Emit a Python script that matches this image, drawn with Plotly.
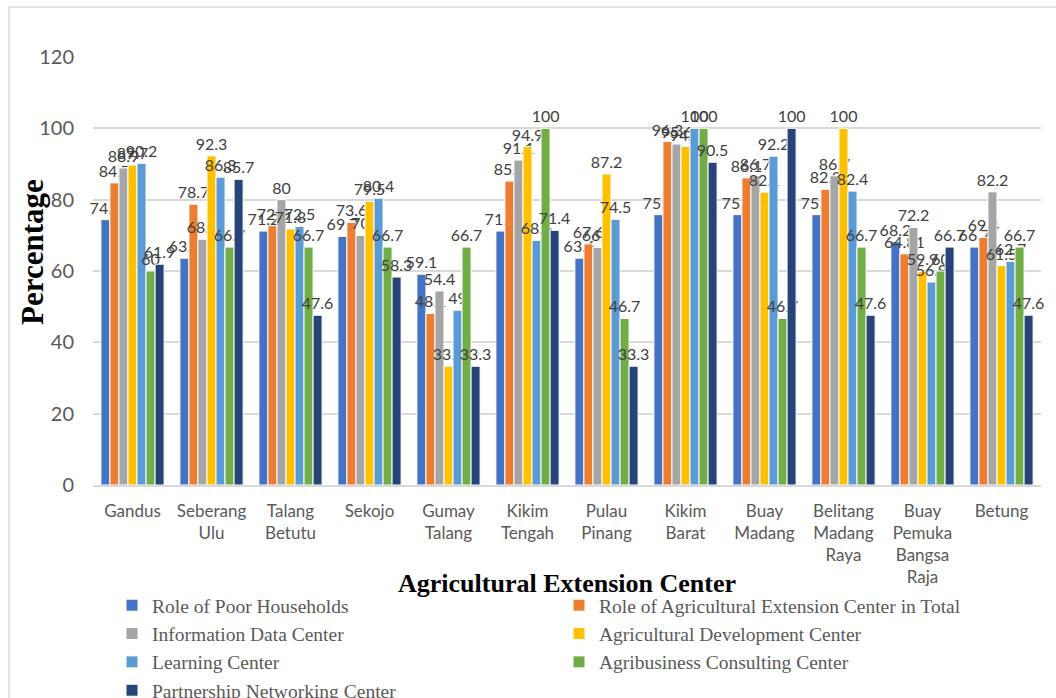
import plotly.graph_objects as go

categories = ["Gandus", "Seberang<br>Ulu", "Talang<br>Betutu", "Sekojo", "Gumay<br>Talang",
              "Kikim<br>Tengah", "Pulau<br>Pinang", "Kikim<br>Barat", "Buay<br>Madang",
              "Belitang<br>Madang<br>Raya", "Buay<br>Pemuka<br>Bangsa<br>Raja", "Betung"]

poor_households = [74.4, 63.6, 71.2, 69.7, 59.1, 71.2, 63.6, 75.8, 75.8, 75.8, 68.2, 66.7]
ext_center_total = [84.7, 78.7, 72.7, 73.6, 48.1, 85.2, 67.6, 96.3, 86.1, 82.9, 64.81, 69.4]
information_data = [88.9, 68.9, 80, 70, 54.4, 91.1, 66.6, 95.6, 86.7, 86.7, 72.2, 82.2]
agri_development = [89.7, 92.3, 71.8, 79.5, 33.3, 94.9, 87.2, 94.9, 82.1, 100, 59.9, 61.5]
learning_center = [90.2, 86.3, 72.5, 80.4, 49, 68.6, 74.5, 100, 92.2, 82.4, 56.9, 62.7]
agribusiness = [60, 66.7, 66.7, 66.7, 66.7, 100, 46.7, 100, 46.7, 66.7, 60, 66.7]
partnership = [61.9, 85.7, 47.6, 58.3, 33.3, 71.4, 33.3, 90.5, 100, 47.6, 66.7, 47.6]

series = [
    ("Role of Poor Households", poor_households, "#4472C4"),
    ("Role of Agricultural Extension Center in Total", ext_center_total, "#ED7D31"),
    ("Information Data Center", information_data, "#A5A5A5"),
    ("Agricultural Development Center", agri_development, "#FFC000"),
    ("Learning Center", learning_center, "#5B9BD5"),
    ("Agribusiness Consulting Center", agribusiness, "#70AD47"),
    ("Partnership Networking Center", partnership, "#264478"),
]

fig = go.Figure()
for name, vals, color in series:
    fig.add_trace(go.Bar(
        name=name, x=categories, y=vals,
        marker=dict(color=color, line=dict(color="white", width=1)),
        text=[f"{v:g}" for v in vals], textposition="outside",
        textfont=dict(family="Lato", size=16, color="#404040"),
        constraintext="none", cliponaxis=False,
    ))

W, H = 1056, 698
L, R, T, B = 93, 15, 57, 213
pw, ph = W - L - R, H - T - B

def px(x):
    return (x - L) / pw

def py(y):
    return (H - B - y) / ph

fig.update_layout(
    width=W, height=H,
    margin=dict(l=L, r=R, t=T, b=B, autoexpand=False),
    paper_bgcolor="white", plot_bgcolor="white",
    barmode="group", bargap=0.2, bargroupgap=0,
    showlegend=True,
    legend=dict(orientation="h", x=px(112), xanchor="left", y=py(586), yanchor="top",
                entrywidth=402, entrywidthmode="pixels",
                font=dict(family="Liberation Serif", size=19.5, color="#595959"),
                traceorder="normal", itemclick=False, bgcolor="rgba(0,0,0,0)"),
    xaxis=dict(tickfont=dict(family="Lato", size=17, color="#595959"),
               showline=True, linecolor="#D9D9D9", linewidth=1.5, ticks="",
               showgrid=False, tickangle=0, ticklabelstandoff=10),
    yaxis=dict(range=[0, 120], dtick=20, tickfont=dict(family="Lato", size=20, color="#595959"),
               showgrid=True, gridcolor="#D9D9D9", gridwidth=1.5, zeroline=False,
               showline=False, ticks="", ticklabelstandoff=18),
    shapes=[dict(type="rect", xref="paper", yref="paper",
                 x0=px(9), x1=px(1075), y0=py(720), y1=py(7),
                 line=dict(color="#D9D9D9", width=1.5), fillcolor="rgba(0,0,0,0)", layer="below")],
    annotations=[
        dict(text="<b>Percentage</b>", xref="paper", yref="paper", x=px(32), y=py(252),
             textangle=-90, showarrow=False, xanchor="center", yanchor="middle",
             font=dict(family="Liberation Serif", size=31, color="black")),
        dict(text="<b>Agricultural Extension Center</b>", xref="paper", yref="paper",
             x=px(567), y=py(583), showarrow=False, xanchor="center", yanchor="middle",
             font=dict(family="Liberation Serif", size=26, color="black")),
    ],
)

fig.write_html("out.html")
